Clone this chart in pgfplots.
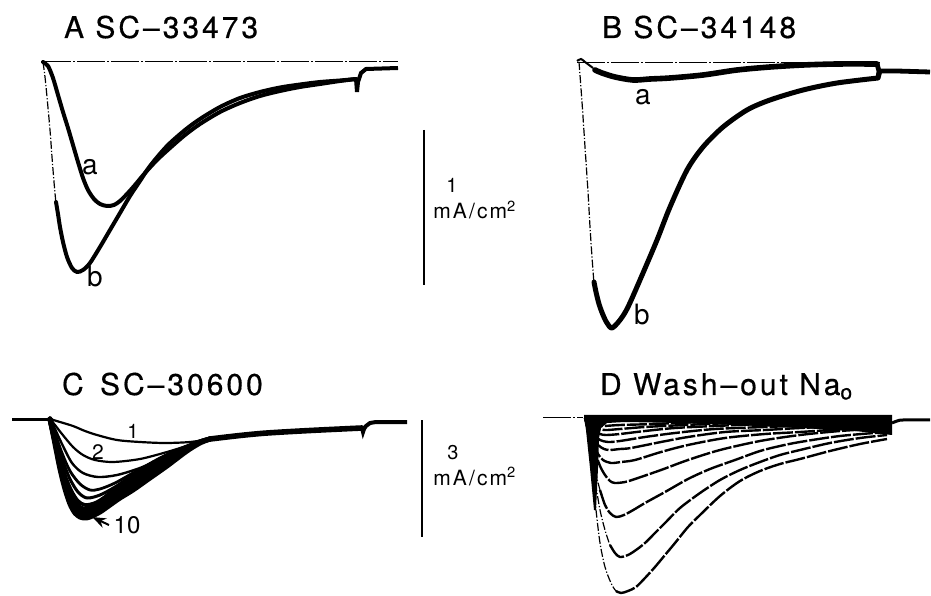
\documentclass[border=0pt]{standalone}
\usepackage{fontspec}
\setmainfont{TeX Gyre Heros}
\newfontfamily\ttlfont[LetterSpace=10,FakeBold=0.5]{TeX Gyre Heros}
\newfontfamily\unitfont[LetterSpace=10]{TeX Gyre Heros}
\usepackage{pgfplots}
\pgfplotsset{compat=1.18}
\usetikzlibrary{arrows.meta}

% one unit = one pixel of the 931x595 original
\pgfplotsset{
  panel/.style={scale only axis, axis lines=none, clip=false,
    x=0.5pt, y=0.5pt, anchor=south west},
  trace/.style={black, line width=#1, smooth, line cap=round, line join=round},
  fast/.style={black, line width=0.6pt, dash pattern=on 4pt off 1pt on 0.6pt off 1pt},
  base/.style={black, line width=0.5pt, dash pattern=on 14pt off 1.2pt on 0.6pt off 1.2pt},
  dtrace/.style={black, line width=1.2pt, smooth, dash pattern=on 10pt off 1pt},
}
\newcommand\ttl[1]{{\ttlfont\fontsize{15}{17}\selectfont #1}}
\newcommand\unit{{\unitfont\fontsize{10.5}{12}\selectfont mA/cm\textsuperscript{2}}}
\newcommand\lab[2]{{\fontsize{#1}{#1}\selectfont #2}}

\begin{document}
\begin{tikzpicture}[x=0.5pt,y=0.5pt]
\path[use as bounding box] (0,0) rectangle (931,595);

% ---------------- A ----------------
\begin{axis}[panel, at={(0,273)}, xmin=-43, xmax=430, ymin=-260, ymax=62]
\addplot[base] coordinates {(0,0) (355,0)};
\addplot[trace=2pt] coordinates {
 (0,0) (5,-4) (10,-16) (15,-33) (20,-50) (25,-66) (30,-83) (35,-100) (40,-116)
 (45,-128) (51,-137) (57,-142) (64,-144) (71,-143) (77,-139) (84,-132) (92,-123)
 (102,-111) (114,-98) (127,-86) (142,-73) (157,-62) (177,-50) (197,-41) (217,-34)
 (237,-29) (257,-25) (277,-22) (297,-19) (313,-17)};
\addplot[fast, smooth] coordinates {(0,0) (2,-15) (4,-35) (7,-68) (9,-95) (11,-120) (13,-142)};
\addplot[trace=2pt] coordinates {
 (13,-140) (15,-152) (17,-165) (20,-180) (24,-195) (29,-206) (34,-210) (40,-208)
 (47,-201) (57,-185) (67,-168) (77,-151) (87,-134) (97,-119) (107,-104) (124,-84)
 (142,-68) (157,-57) (177,-45) (197,-36) (217,-30) (237,-25.5) (257,-22.5) (277,-20)
 (297,-18.5) (313,-17)};
\addplot[black, line width=2pt] coordinates {(313,-17) (314,-30) (315,-20) (318,-11) (323,-7) (355,-6)};
\addplot[black, line width=1pt] coordinates {(381,-68) (381,-223)};
\node[anchor=base west] at (axis cs:14,24) {\ttl{A SC\textendash33473}};
\node at (axis cs:47,-105) {\lab{14}{a}};
\node at (axis cs:52,-215) {\lab{14}{b}};
\node[inner sep=0pt] at (axis cs:409,-123) {\lab{10}{1}};
\node[anchor=base west, inner sep=0pt] at (axis cs:390,-157) {\unit};
\end{axis}

% ---------------- B ----------------
\begin{axis}[panel, at={(477,253)}, xmin=-100, xmax=354, ymin=-280, ymax=62]
\addplot[base] coordinates {(0,-0.5) (303,-0.5)};
\addplot[black, line width=1pt, smooth] coordinates {(0,1) (4,3) (8,0) (12,-3) (16,-6)};
\addplot[trace=2.8pt] coordinates {
 (18,-8) (25,-11) (38,-15) (56,-18) (73,-17) (93,-16) (126,-13) (160,-8) (193,-5)
 (226,-3) (260,-2) (300,-2)};
\addplot[fast, smooth] coordinates {(2,0) (5,-40) (8,-85) (11,-130) (13,-165) (15,-195) (17,-222)};
\addplot[trace=2.5pt] coordinates {
 (17,-220) (19,-230) (22,-242) (26,-253) (30,-261) (35,-266) (43,-258) (51,-245)
 (66,-211) (80,-178) (93,-145) (110,-108) (126,-85) (146,-65) (170,-48) (193,-38)
 (226,-28) (260,-21) (301,-16)};
\addplot[black, line width=2.4pt] coordinates {(300,-2) (302,-9) (301,-16) (303,-9) (320,-9) (353,-10)};
\node[anchor=base west] at (axis cs:18,24) {\ttl{B SC\textendash34148}};
\node at (axis cs:66,-35) {\lab{14}{a}};
\node at (axis cs:65,-253) {\lab{14}{b}};
\end{axis}

% ---------------- C ----------------
\begin{axis}[panel, at={(0,6)}, xmin=-50, xmax=420, ymin=-170, ymax=60]
\addplot[black, line width=1.5pt] coordinates {(-38,0) (0,0)};
\addplot[trace=1.1pt] coordinates {(0,0) (10,-3) (23,-7) (35,-12) (47,-16) (67,-21) (90,-23) (115,-24) (140,-23) (160,-20)};
\addplot[trace=1.1pt] coordinates {(0,0) (5,-6) (12,-15) (23,-28) (33,-36) (45,-41) (63,-43) (90,-40) (117,-33) (140,-26) (160,-21)};
\addplot[trace=1.2pt] coordinates {(0,0) (5,-10) (12,-25) (22,-44) (33,-54) (48,-58) (67,-56) (90,-49) (110,-40) (130,-31) (150,-24) (160,-21)};
\addplot[trace=1.4pt] coordinates {(0,0) (5,-14) (12,-34) (20,-52) (30,-65) (40,-71) (50,-70) (65,-64) (83,-54) (100,-45) (120,-35) (140,-27) (160,-20)};
\addplot[trace=1.5pt] coordinates {(0,0) (5,-17) (12,-40) (20,-60) (28,-73) (37,-79) (50,-76) (65,-68) (83,-56) (100,-45) (120,-35) (140,-27) (160,-20)};
\addplot[trace=1.8pt] coordinates {(0,0) (5,-19) (10,-40) (16,-59) (22,-73) (28,-82) (35,-86) (45,-84) (55,-78) (70,-66) (83,-56) (100,-45) (117,-36) (137,-28) (150,-23) (160,-20)};
\addplot[trace=2.5pt] coordinates {(0,0) (5,-21) (10,-43) (15,-62) (20,-76) (27,-86) (33,-90) (40,-89) (50,-83) (60,-75) (70,-67) (83,-58) (100,-47) (117,-37) (137,-28) (150,-23) (160,-20)};
\addplot[trace=2.5pt] coordinates {(0,0) (5,-22) (10,-45) (15,-64) (20,-79) (25,-88) (32,-93) (40,-91) (50,-86) (60,-78) (70,-71) (83,-62) (100,-51) (117,-40) (137,-29) (150,-23) (160,-20)};
\addplot[trace=2.5pt] coordinates {(0,0) (5,-23) (10,-47) (15,-67) (20,-82) (25,-91) (30,-95) (35,-96) (40,-95) (50,-89) (60,-82) (70,-75) (83,-66) (100,-54) (117,-43) (137,-30) (150,-23) (160,-20)};
\addplot[trace=2.5pt] coordinates {(0,0) (5,-25) (10,-50) (15,-70) (20,-85) (25,-94) (30,-98) (35,-99) (40,-98) (50,-93) (60,-86) (70,-79) (83,-71) (100,-59) (117,-47) (137,-32) (150,-24) (160,-20)};
\addplot[trace=2.8pt] coordinates {(160,-20) (190,-16.5) (217,-14) (260,-11.5) (312,-9)};
\addplot[black, line width=2pt] coordinates {(312,-9) (313,-13) (314,-10) (316,-7) (320,-4) (326,-3) (357,-3)};
\addplot[black, line width=1pt] coordinates {(372,-1) (372,-118)};
\addplot[black, line width=1pt, -{Stealth[length=7pt,width=5pt]}] coordinates {(59,-106) (42,-98)};
\node[anchor=base west] at (axis cs:5,24) {\ttl{C\, SC\textendash30600}};
\node at (axis cs:83,-12) {\lab{10}{1}};
\node at (axis cs:48,-33) {\lab{10.5}{2}};
\node at (axis cs:77,-106) {\lab{12}{10}};
\node[inner sep=0pt] at (axis cs:403,-34) {\lab{10}{3}};
\node[anchor=base west, inner sep=0pt] at (axis cs:383,-66) {\unit};
\end{axis}

% ---------------- D ----------------
\begin{axis}[panel, at={(485,0)}, xmin=-100, xmax=346, ymin=-177, ymax=60]
\addplot[base] coordinates {(-42,0) (-2,0)};
\addplot[fill=black, draw=none] coordinates {
 (-1,3) (307,3) (307,-17) (270,-13) (215,-10) (150,-7) (95,-5) (40,-4) (22,-5)
 (16,-10) (14,-20) (13,-50) (11,-92) (9,-92) (5,-50) (1,-12) (-1,0)};
\addplot[black, line width=1.5pt, smooth] coordinates {(307,-5) (312,-3) (318,-2) (345,-2)};
% falling phases
\addplot[fast, smooth] coordinates {(0,0) (5,-32) (8,-62) (11,-92) (15,-125) (20,-149) (26,-165) (31,-173) (36,-175)};
\addplot[fast, smooth] coordinates {(0,0) (5,-27) (10,-62) (15,-92) (20,-112) (25,-127) (30,-135)};
\addplot[fast, smooth] coordinates {(0,0) (5,-27) (10,-52) (15,-72) (20,-87)};
% decaying phases
\addplot[dtrace] coordinates {(31,-173) (36,-175) (43,-173) (51,-169) (60,-160) (70,-149) (80,-137) (90,-125) (103,-109) (115,-97) (135,-78) (155,-63) (175,-53) (195,-46) (215,-41) (245,-33) (275,-26) (302,-21)};
\addplot[dtrace] coordinates {(25,-127) (30,-135) (35,-139) (43,-137) (51,-132) (60,-125) (70,-115) (80,-105) (95,-90) (115,-75) (135,-62) (155,-52) (175,-44) (195,-37) (215,-32) (245,-25) (275,-20) (302,-17)};
\addplot[dtrace] coordinates {(15,-72) (20,-87) (25,-95) (31,-99) (39,-97) (50,-91) (60,-85) (80,-74) (103,-61) (125,-51) (150,-42) (175,-33) (195,-28) (215,-24) (255,-18) (302,-14)};
\addplot[dtrace] coordinates {(0,0) (5,-17) (10,-34) (15,-48) (20,-57) (25,-63) (30,-65) (40,-64) (50,-61) (76,-52) (103,-42) (135,-32) (175,-23) (215,-17) (255,-13) (302,-10)};
\addplot[dtrace] coordinates {(0,0) (4,-14) (8,-26) (13,-36) (18,-42) (26,-45) (36,-44) (50,-42) (76,-34) (103,-27) (140,-20) (180,-16) (215,-14) (260,-11) (302,-9)};
\addplot[dtrace] coordinates {(0,0) (4,-11) (8,-20) (13,-27) (19,-31) (25,-32) (35,-31) (46,-30) (76,-24) (103,-19) (140,-14) (180,-12) (215,-10) (260,-8) (302,-7)};
\addplot[dtrace] coordinates {(0,0) (4,-9) (9,-17) (15,-22) (23,-24) (35,-23) (60,-19) (90,-15) (130,-11) (180,-9) (240,-7) (302,-6)};
\addplot[dtrace] coordinates {(0,0) (4,-7) (9,-13) (15,-16) (21,-17) (35,-16) (60,-13) (90,-10) (130,-8) (180,-6) (240,-5) (302,-5)};
\addplot[dtrace] coordinates {(0,0) (5,-6) (10,-10) (20,-12) (35,-11) (60,-9) (100,-7) (150,-5) (220,-4) (302,-4)};
\addplot[dtrace] coordinates {(0,0) (5,-4) (12,-7) (18,-8) (35,-7) (70,-6) (120,-4) (200,-3) (302,-3)};
\node[anchor=base west] at (axis cs:8,23) {\ttl{D Wash\textendash out Na\textsubscript{o}}};
\end{axis}
\end{tikzpicture}
\end{document}
